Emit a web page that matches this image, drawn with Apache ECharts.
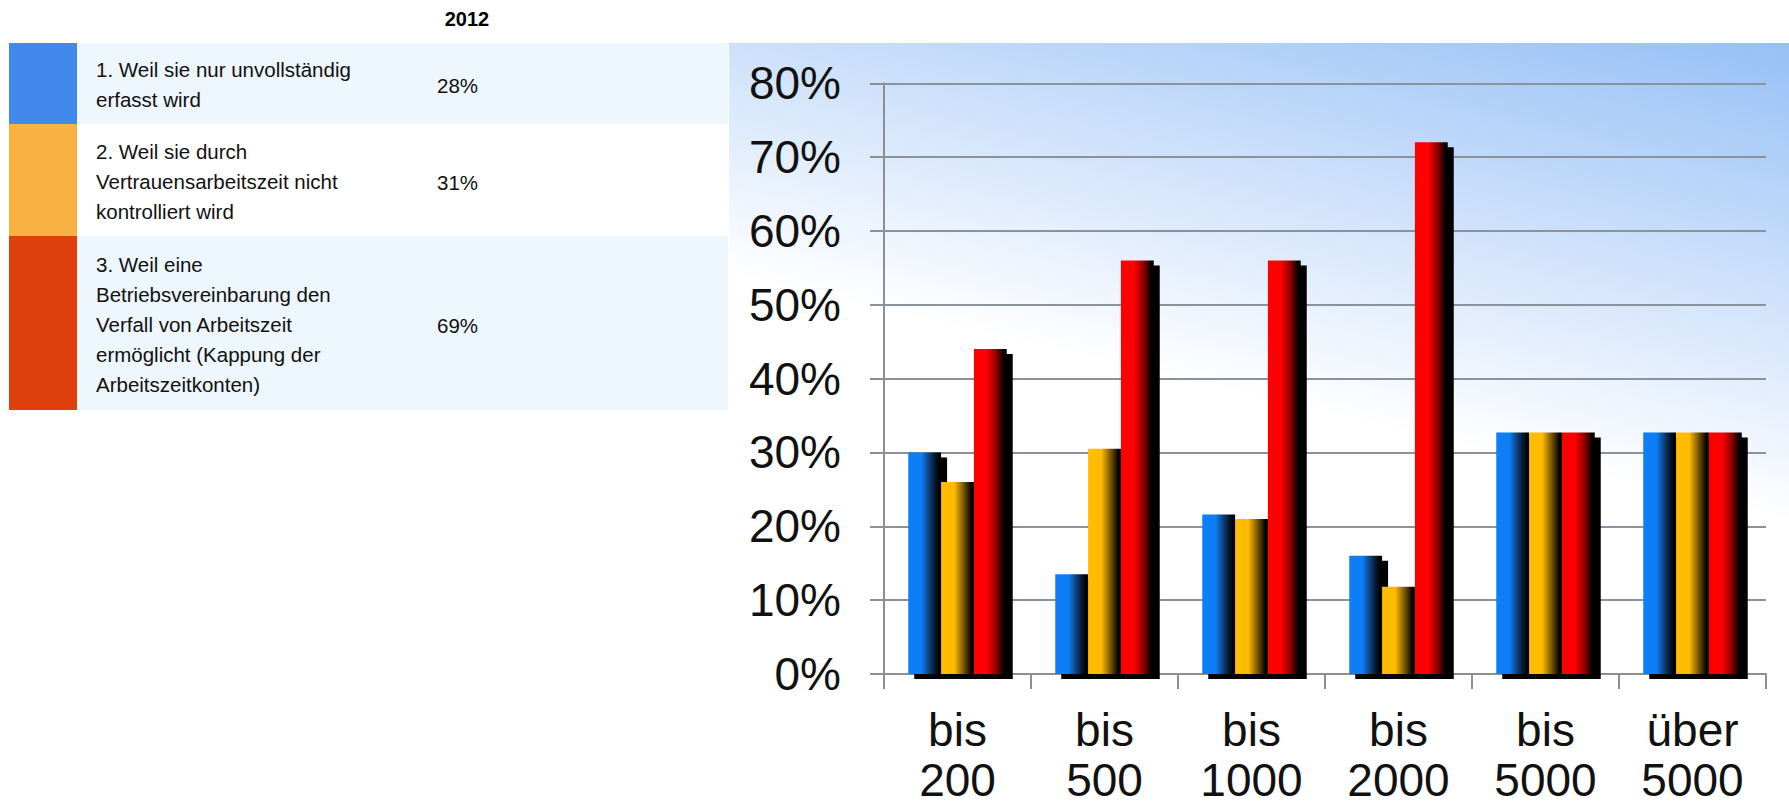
<!DOCTYPE html>
<html>
<head>
<meta charset="utf-8">
<script src="https://cdn.jsdelivr.net/npm/echarts@6/dist/echarts.min.js"></script>
<style>
html,body{margin:0;padding:0;background:#fff;overflow:hidden;}
#chart{width:1789px;height:806px;}
</style>
</head>
<body>
<div id="chart"></div>
<script>
// ---- data ----
var categories = ['bis\n200', 'bis\n500', 'bis\n1000', 'bis\n2000', 'bis\n5000', 'über\n5000'];
var seriesBlue   = [30, 13.5, 21.6, 16, 32.7, 32.7];
var seriesYellow = [26, 30.5, 21, 11.8, 32.7, 32.7];
var seriesRed    = [44, 56, 56, 72, 32.7, 32.7];
var tableHeader = '2012';
var tableLabels = [
  '1. Weil sie nur unvollständig\nerfasst wird',
  '2. Weil sie durch\nVertrauensarbeitszeit nicht\nkontrolliert wird',
  '3. Weil eine\nBetriebsvereinbarung den\nVerfall von Arbeitszeit\nermöglicht (Kappung der\nArbeitszeitkonten)'
];
var tableValues = ['28%', '31%', '69%'];

// ---- styles / layout ----
var FONT = '"Liberation Sans", Arial, sans-serif';
var tableSwatch = ['#4189ea', '#f9b142', '#de400d'];
var tableRowBg = ['#eef6fe', '#ffffff', '#eef6fe'];
var rowTops = [43, 124, 236, 410];

function barGrad(c, mid) {
  return {type: 'linear', x: 0, y: 0, x2: 1, y2: 0,
    colorStops: [
      {offset: 0, color: c},
      {offset: 0.4, color: c},
      {offset: 0.68, color: mid},
      {offset: 0.93, color: '#000000'},
      {offset: 1, color: '#000000'}
    ]};
}

function buildGraphics() {
  var g = [];
  g.push({type: 'rect', z: -100, silent: true, shape: {x: 729, y: 43, width: 1060, height: 763},
    style: {fill: {type: 'linear', global: true, x: 1260, y: 400, x2: 1366, y2: -57,
      colorStops: [{offset: 0, color: '#ffffff'}, {offset: 0.35, color: '#dbe9fc'}, {offset: 1, color: '#96c0f6'}]}}});
  g.push({type: 'text', style: {text: tableHeader, x: 467, y: 19, font: 'bold 20px ' + FONT, fill: '#000',
    textAlign: 'center', textVerticalAlign: 'middle'}});
  for (var i = 0; i < tableLabels.length; i++) {
    var top = rowTops[i], h = rowTops[i + 1] - rowTops[i];
    g.push({type: 'rect', silent: true, shape: {x: 77, y: top, width: 651, height: h}, style: {fill: tableRowBg[i]}});
    g.push({type: 'rect', silent: true, shape: {x: 9, y: top, width: 68, height: h}, style: {fill: tableSwatch[i]}});
    g.push({type: 'text', style: {text: tableLabels[i], x: 96, y: top + h / 2 + 1, font: '20.5px ' + FONT,
      fill: '#111', lineHeight: 30, textAlign: 'left', textVerticalAlign: 'middle'}});
    g.push({type: 'text', style: {text: tableValues[i], x: 437, y: top + h / 2 + 2, font: '20.5px ' + FONT,
      fill: '#111', textAlign: 'left', textVerticalAlign: 'middle'}});
  }
  return g;
}

var shadow = {shadowColor: 'rgba(0,0,0,1)', shadowOffsetX: 6, shadowOffsetY: 5, shadowBlur: 0};

var option = {
  animation: false,
  backgroundColor: '#ffffff',
  graphic: {elements: buildGraphics()},
  grid: {left: 884, right: 23, top: 83.3, bottom: 132, containLabel: false, outerBoundsMode: 'none'},
  xAxis: {type: 'category', data: categories,
    axisLine: {show: true, lineStyle: {color: '#8c8f93', width: 2}},
    axisTick: {show: true, length: 15, lineStyle: {color: '#8c8f93', width: 2}},
    axisLabel: {fontSize: 46, fontFamily: FONT, color: '#111', lineHeight: 50, margin: 31, interval: 0}},
  yAxis: {type: 'value', min: 0, max: 80, interval: 10,
    axisLine: {show: true, lineStyle: {color: '#8c8f93', width: 2}},
    axisTick: {show: true, length: 14, lineStyle: {color: '#8c8f93', width: 2}},
    splitLine: {show: true, lineStyle: {color: '#8a939c', width: 2}},
    axisLabel: {fontSize: 46, fontFamily: FONT, color: '#111', margin: 43, formatter: '{value}%'}},
  series: [
    {type: 'bar', data: seriesBlue, barGap: '0%', barCategoryGap: '33%',
      itemStyle: Object.assign({color: barGrad('#0a7ef6', '#0a3566')}, shadow)},
    {type: 'bar', data: seriesYellow, barGap: '0%', barCategoryGap: '33%',
      itemStyle: Object.assign({color: barGrad('#ffbc00', '#7a5800')}, shadow)},
    {type: 'bar', data: seriesRed, barGap: '0%', barCategoryGap: '33%',
      itemStyle: Object.assign({color: barGrad('#ff0000', '#900000')}, shadow)}
  ]
};

var chart = echarts.init(document.getElementById('chart'), null, {renderer: 'svg'});
chart.setOption(option);
</script>
</body>
</html>
